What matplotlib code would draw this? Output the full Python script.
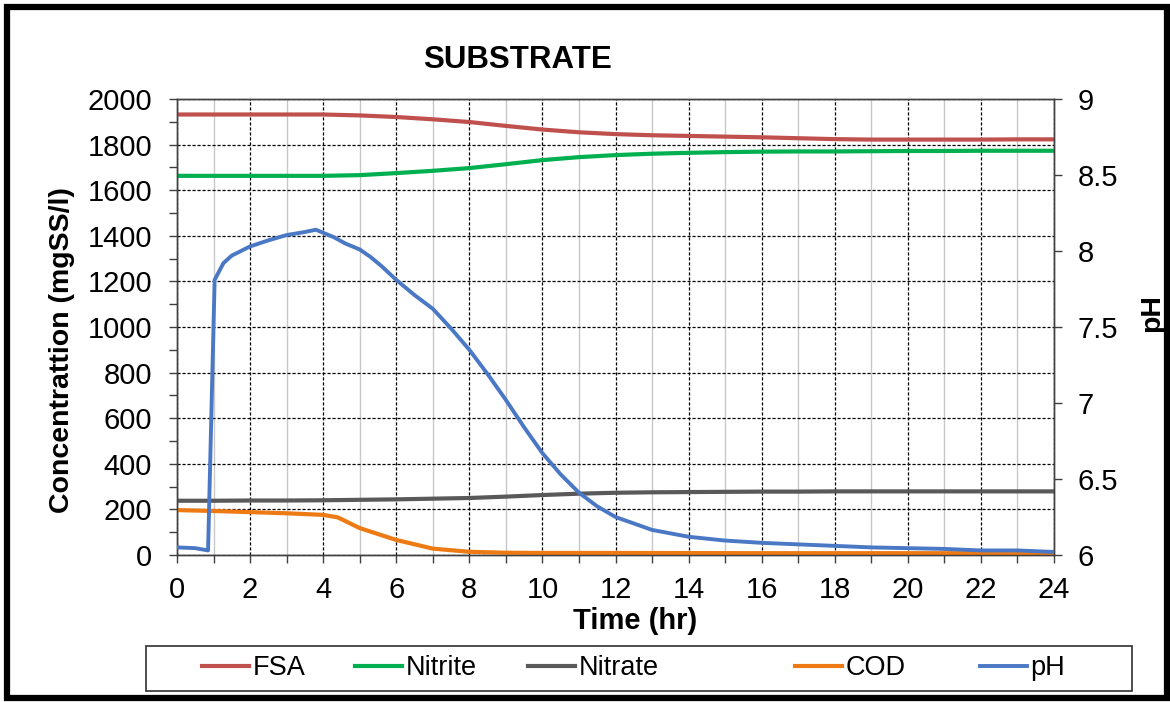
import matplotlib
matplotlib.use("Agg")
import matplotlib.pyplot as plt
from matplotlib.patches import Rectangle
from matplotlib.ticker import MultipleLocator, FuncFormatter

plt.rcParams['font.family'] = ['Liberation Sans', 'DejaVu Sans']

# Hourly concentrations (mgSS/l)
hours = list(range(0, 25))
fsa = [1932, 1932, 1932, 1932, 1932, 1928, 1921, 1911, 1899, 1882, 1866, 1854, 1846,
       1841, 1838, 1835, 1832, 1828, 1824, 1822, 1822, 1822, 1822, 1823, 1823]
nitrite = [1663, 1663, 1663, 1663, 1663, 1666, 1675, 1685, 1697, 1714, 1732, 1745, 1754,
           1760, 1764, 1767, 1769, 1770, 1770, 1771, 1772, 1772, 1773, 1773, 1773]
nitrate = [238, 238, 239, 239, 240, 242, 244, 247, 250, 256, 263, 269, 273,
           275, 276, 277, 278, 278, 279, 279, 279, 279, 279, 279, 279]
cod_hours = [0, 1, 2, 3, 4, 4.4, 5, 6, 7, 8, 9, 10, 12, 16, 20, 24]
cod = [197, 193, 188, 183, 176, 165, 118, 66, 28, 14, 10, 9, 9, 8, 8, 8]

# pH readings
ph_hours = [0, 0.5, 0.85, 1.03, 1.27, 1.5, 2, 2.5, 3, 3.5, 3.8, 4, 4.3, 4.6, 5, 5.3,
            5.6, 6, 6.5, 7, 7.5, 8, 8.5, 9, 9.5, 10, 10.5, 11, 11.5, 12, 13, 14, 15,
            16, 17, 18, 19, 20, 21, 22, 23, 24]
ph = [6.05, 6.045, 6.03, 7.81, 7.92, 7.97, 8.03, 8.07, 8.105, 8.125, 8.14, 8.12, 8.09,
      8.05, 8.01, 7.96, 7.90, 7.81, 7.71, 7.62, 7.49, 7.35, 7.19, 7.02, 6.84, 6.67,
      6.53, 6.41, 6.32, 6.25, 6.165, 6.12, 6.095, 6.08, 6.07, 6.06, 6.05, 6.045,
      6.04, 6.03, 6.03, 6.02]

COLORS = {
    'FSA': '#C0504D',
    'Nitrite': '#00B050',
    'Nitrate': '#595959',
    'COD': '#EE7A14',
    'pH': '#4A78C4',
}

W, H = 1170, 702
fig = plt.figure(figsize=(W / 100, H / 100), dpi=100)
ax = fig.add_axes([177 / W, 1 - 555 / H, (1054 - 177) / W, (555 - 99) / H])

lw = 3.0
l1, = ax.plot(hours, fsa, color=COLORS['FSA'], lw=lw, label='FSA', zorder=3)
l2, = ax.plot(hours, nitrite, color=COLORS['Nitrite'], lw=lw, label='Nitrite', zorder=3)
l3, = ax.plot(hours, nitrate, color=COLORS['Nitrate'], lw=lw, label='Nitrate', zorder=3)
l4, = ax.plot(cod_hours, cod, color=COLORS['COD'], lw=lw, label='COD', zorder=3)

ax.set_xlim(0, 24)
ax.set_ylim(0, 2000)
ax.xaxis.set_major_locator(MultipleLocator(2))
ax.xaxis.set_minor_locator(MultipleLocator(1))
ax.yaxis.set_major_locator(MultipleLocator(200))
ax.yaxis.set_minor_locator(MultipleLocator(100))

dash = (0, (2.5, 1.5))
ax.grid(which='major', axis='both', color='black', lw=0.9, linestyle=dash, zorder=1)
ax.grid(which='minor', axis='x', color='#C8C8C8', lw=1.0, linestyle='-', zorder=0)
ax.set_axisbelow(True)

ax.tick_params(axis='both', which='both', direction='out', length=6, width=1,
               color='#404040', labelsize=21)
ax.tick_params(axis='x', pad=9)
ax.tick_params(axis='y', pad=12)

# pH on the secondary axis
ax2 = ax.twinx()
l5, = ax2.plot(ph_hours, ph, color=COLORS['pH'], lw=2.8, label='pH', zorder=4)
ax2.set_ylim(6, 9)
ax2.yaxis.set_major_locator(MultipleLocator(0.5))
ax2.yaxis.set_major_formatter(FuncFormatter(lambda v, p: f'{v:g}'))
ax2.tick_params(axis='y', direction='out', length=6, width=1, color='#404040',
                labelsize=21, pad=11)

for a in (ax, ax2):
    for sp in a.spines.values():
        sp.set_color('#404040')
        sp.set_linewidth(1.0)

# Titles and axis labels
fig.text(517 / W, 1 - 60 / H, 'SUBSTRATE', ha='center', va='center',
         fontsize=22.5, fontweight='bold')
fig.text(62 / W, 1 - 350 / H, 'Concentrattion (mgSS/l)', rotation=90,
         ha='center', va='center', fontsize=20.5, fontweight='bold')
fig.text(1152 / W, 1 - 313 / H, 'pH', rotation=90, ha='center', va='center',
         fontsize=20.5, fontweight='bold')
fig.text(635 / W, 1 - 621 / H, 'Time (hr)', ha='center', va='center',
         fontsize=21, fontweight='bold')

# Legend box along the bottom, one entry per series
fig.patches.append(Rectangle((146 / W, 1 - 691 / H), (1132 - 146) / W, 45 / H,
                             transform=fig.transFigure, fill=False,
                             edgecolor='#303030', lw=1.2))
entry_x = [202, 355, 528, 795, 980]
for line, x in zip([l1, l2, l3, l4, l5], entry_x):
    fig.legend(handles=[line], loc='center left',
               bbox_to_anchor=(x / W, 1 - 668 / H),
               frameon=False, fontsize=19.5, handlelength=1.75, handletextpad=0.12,
               borderpad=0, borderaxespad=0)

# Outer frame
fig.patches.append(Rectangle((7 / W, 4 / H), (1160 / W), (691 / H),
                             transform=fig.transFigure, fill=False,
                             edgecolor='black', lw=4.5))

fig.savefig('out.png', dpi=100, facecolor='white')
